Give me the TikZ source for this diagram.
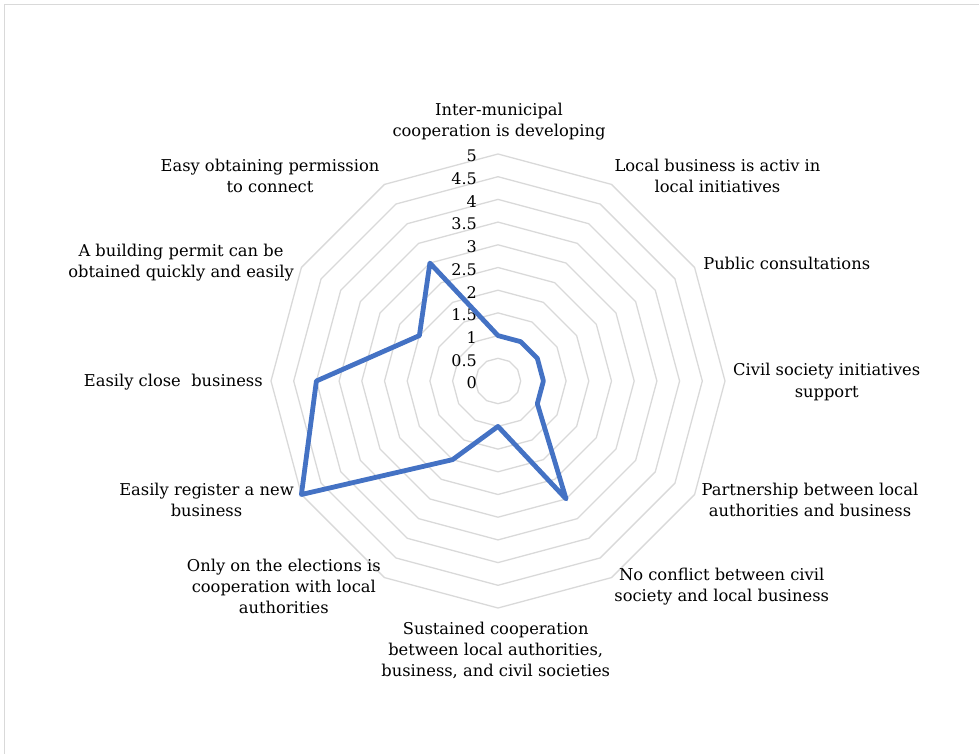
\documentclass[tikz,border=0pt]{standalone}
\usepackage{fontspec}
\setmainfont{DejaVu Serif}
\usepackage{xcolor}
\usetikzlibrary{positioning, calc}
\definecolor{gridgray}{HTML}{D9D9D9}
\definecolor{seriesblue}{HTML}{4472C4}

\begin{document}
\begin{tikzpicture}[x=1pt,y=-1pt,
  ring/.style={draw=gridgray, line width=1.3pt},
  catlabel/.style={font=\fontsize{16.3}{21}\selectfont, align=center, inner sep=0pt},
  ticklabel/.style={font=\fontsize{16}{16}\selectfont, anchor=east, inner sep=0pt}]
\useasboundingbox (0,0) rectangle (979,754);
\draw[gridgray, line width=1pt] (4.5,754) -- (4.5,4.5) -- (979,4.5);

\coordinate (ctr) at (498,381);
% rings, 0.5 step
\foreach \lev in {1,...,10} {
  \pgfmathsetmacro{\rad}{\lev*22.7}
  \draw[ring] ($(ctr)+(-90:\rad)$)
    \foreach \k in {1,...,11} { -- ($(ctr)+({-90+30*\k}:\rad)$) } -- cycle;
}

% scale
\foreach \v [count=\i] in {0,0.5,1,1.5,2,2.5,3,3.5,4,4.5,5} {
  \node[ticklabel] (tick\i) at (477,{383-\v*45.4}) {\v};
}

% series
\foreach \val [count=\k from 0] in {1,1,1,1,1,3,1,2,5,4,2,3} {
  \coordinate (p\k) at ($(ctr)+({-90+30*\k}:{\val*45.4})$);
}
\draw[seriesblue, line width=4.8pt, line join=round]
  (p0) \foreach \k in {1,...,11} { -- (p\k) } -- cycle;

% categories
\node[catlabel] (cat1) at (499,122) {Inter-municipal\\cooperation is developing};
\node[catlabel] (cat2) at (717.5,176) {Local business is activ in\\local initiatives};
\node[catlabel] (cat3) at (786.7,263) {Public consultations};
\node[catlabel] (cat4) at (826.7,382) {Civil society initiatives\\support};
\node[catlabel] (cat5) at (810,500) {Partnership between local\\authorities and business};
\node[catlabel] (cat6) at (721.7,587) {No conflict between civil\\society and local business};
\node[catlabel] (cat7) at (495.7,650.5) {Sustained cooperation\\between local authorities,\\business, and civil societies};
\node[catlabel] (cat8) at (283.8,586) {Only on the elections is\\cooperation with local\\authorities};
\node[catlabel] (cat9) at (206.5,499.5) {Easily register a new\\business};
\node[catlabel] (cat10) at (173.3,381.7) {Easily close\ \ business};
\node[catlabel] (cat11) at (181,263) {A building permit can be\\obtained quickly and easily};
\node[catlabel] (cat12) at (270,176) {Easy obtaining permission\\to connect};
\end{tikzpicture}
\end{document}
